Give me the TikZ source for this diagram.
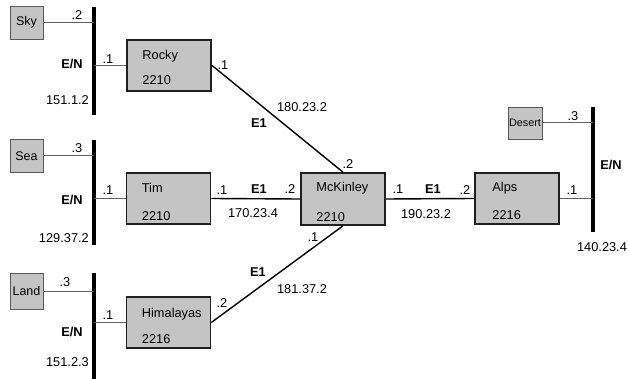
\documentclass[tikz,border=0pt]{standalone}
\usepackage{fontspec}
\setmainfont{Liberation Sans}
\begin{document}
\begin{tikzpicture}[x=1pt,y=-1pt,
  router/.style={draw=black!88,line width=1.6pt,fill=boxgray,rectangle,
    minimum width=84pt,minimum height=51pt,inner sep=0pt},
  host/.style={draw=black!65,line width=0.8pt,fill=boxgray,rectangle,
    minimum width=33pt,minimum height=33pt,inner sep=0pt,font=\fontsize{12.5}{13}\selectfont},
  bus/.style={line width=4pt,black},
  stub/.style={line width=1pt,black!62},
  link/.style={line width=1.4pt,black},
  lbl/.style={inner sep=0pt,font=\fontsize{12.8}{14}\selectfont},
  net/.style={lbl,font=\fontsize{12.8}{14}\selectfont\bfseries},
  rtext/.style={lbl,anchor=west}]
\definecolor{boxgray}{HTML}{C4C4C4}
\useasboundingbox (0,0) rectangle (629,379);

% routers
\node[router] (rocky) at (169,65.3) {};
\node[router] (tim)   at (168.5,198.5) {};
\node[router] (him)   at (168.5,322.5) {};
\node[router,minimum height=52pt] (mck) at (343,199) {};
\node[router] (alps)  at (517,198.5) {};

\node[rtext] (rockyname) at ([xshift=16pt,yshift=-17pt]rocky.north west) {Rocky};
\node[rtext] (rockyas)   at ([xshift=16pt,yshift=-41pt]rocky.north west) {2210};
\node[rtext] (timname)   at ([xshift=16pt,yshift=-16pt]tim.north west) {Tim};
\node[rtext] (timas)     at ([xshift=16pt,yshift=-44pt]tim.north west) {2210};
\node[rtext] (himname)   at ([xshift=16pt,yshift=-18pt]him.north west) {Himalayas};
\node[rtext] (himas)     at ([xshift=16pt,yshift=-43pt]him.north west) {2216};
\node[rtext] (mckname)   at ([xshift=16pt,yshift=-16pt]mck.north west) {McKinley};
\node[rtext] (mckas)     at ([xshift=16pt,yshift=-45pt]mck.north west) {2210};
\node[rtext] (alpsname)  at ([xshift=18pt,yshift=-16pt]alps.north west) {Alps};
\node[rtext] (alpsas)    at ([xshift=18pt,yshift=-43pt]alps.north west) {2216};

% hosts
\node[host] (sky)  at (26.5,22.5) {Sky};
\node[host] (sea)  at (26.5,156) {Sea};
\node[host,minimum height=36pt] (land) at (26.5,291.5) {Land};
\node[host,minimum width=34pt,minimum height=32pt,font=\fontsize{10.8}{12}\selectfont] (desert) at (525,123) {Desert};

% buses
\coordinate (b1t) at (94,7);   \coordinate (b1b) at (94,115);
\coordinate (b2t) at (94,140); \coordinate (b2b) at (94,245);
\coordinate (b3t) at (94,273); \coordinate (b3b) at (94,379);
\coordinate (b4t) at (593,107); \coordinate (b4b) at (593,232);
\draw[bus] (b1t) -- (b1b);
\draw[bus] (b2t) -- (b2b);
\draw[bus] (b3t) -- (b3b);
\draw[bus] (b4t) -- (b4b);

% stub links onto the buses
\draw[stub] (sky.east) -- (sky.east -| b1t);
\draw[stub] (rocky.west) -- (rocky.west -| b1t);
\draw[stub] (sea.east) -- (sea.east -| b2t);
\draw[stub] (tim.west) -- (tim.west -| b2t);
\draw[stub] (land.east) -- (land.east -| b3t);
\draw[stub] (him.west) -- (him.west -| b3t);
\draw[stub] (desert.east) -- (desert.east -| b4t);
\draw[stub] (alps.east) -- (alps.east -| b4t);

% E1 links
\draw[link] (rocky.east) -- (mck.north);
\draw[link] (tim.east) -- (mck.west);
\draw[link] (mck.east) -- (alps.west);
\draw[link] (him.east) -- (mck.south);

% labels of the first bus
\node[lbl] (l1) at (77,15) {.2};
\node[net] (n1) at (72,64) {E/N};
\node[lbl] (l2) at (108,59) {.1};
\node[lbl,anchor=east] (a1) at (89,100) {151.1.2};
% second bus
\node[lbl] (l3) at (77,148) {.3};
\node[net] (n2) at (72,200) {E/N};
\node[lbl] (l4) at (108,190) {.1};
\node[lbl,anchor=east] (a2) at (89,238) {129.37.2};
% third bus
\node[lbl] (l5) at (65,282) {.3};
\node[net] (n3) at (72,332) {E/N};
\node[lbl] (l6) at (108,315) {.1};
\node[lbl,anchor=east] (a3) at (89,362) {151.2.3};
% fourth bus
\node[lbl] (l7) at (573,116) {.3};
\node[net] (n4) at (611,165) {E/N};
\node[lbl] (l8) at (572,190) {.1};
\node[lbl] (a4) at (602,247) {140.23.4};

% Rocky -- McKinley
\node[lbl] (l9) at (223,65) {.1};
\node[lbl] (a5) at (302,107) {180.23.2};
\node[net] (e1) at (259,123) {E1};
\node[lbl] (l10) at (348,164) {.2};
% Tim -- McKinley
\node[lbl] (l11) at (222,190) {.1};
\node[net] (e2) at (259,189) {E1};
\node[lbl] (l12) at (290,189) {.2};
\node[lbl] (a6) at (253,213) {170.23.4};
% McKinley -- Alps
\node[lbl] (l13) at (398,189) {.1};
\node[net] (e3) at (433,189) {E1};
\node[lbl] (l14) at (465,190) {.2};
\node[lbl] (a7) at (426,214) {190.23.2};
% Himalayas -- McKinley
\node[lbl] (l15) at (222,303) {.2};
\node[net] (e4) at (258,272) {E1};
\node[lbl] (a8) at (302,289) {181.37.2};
\node[lbl] (l16) at (313,237) {.1};
\end{tikzpicture}
\end{document}
